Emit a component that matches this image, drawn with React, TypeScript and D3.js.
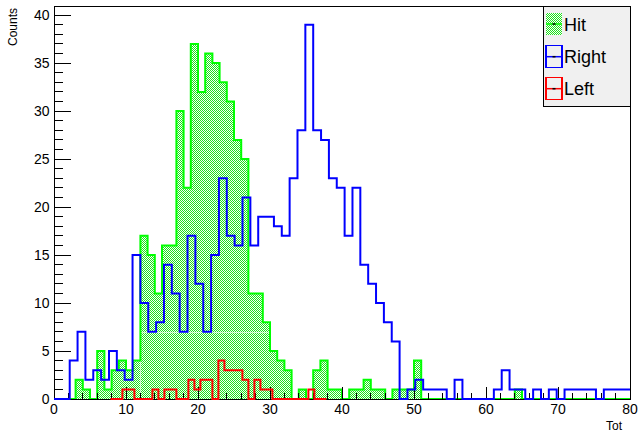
import React from "react";
import * as d3 from "d3";

// Axis ticks
const xMajorTicks = [0, 10, 20, 30, 40, 50, 60, 70, 80];
const yMajorTicks = [0, 5, 10, 15, 20, 25, 30, 35, 40];

// "Hit": 80 bins of width 1 starting at 0
const hitStart = 0;
const hitWidth = 1;
const hitCounts = [
  0, 0, 0, 2, 1, 0, 5, 1, 3, 4,
  3, 4, 17, 15, 11, 16, 16, 30, 22, 37,
  32, 36, 35, 33, 31, 27, 25, 11, 11, 8,
  5, 4, 3, 0, 1, 0, 3, 4, 1, 1,
  0, 1, 1, 2, 1, 1, 0, 1, 1, 1,
  4, 0, 0, 0, 0, 0, 0, 0, 0, 0,
  0, 0, 0, 0, 1, 0, 0, 0, 0, 0,
  0, 0, 0, 0, 0, 0, 0, 0, 0, 0,
];

// "Right": bins of width 12/11 starting at 0
const rightStart = 0;
const rightWidth = 12 / 11;
const rightCounts = [
  0, 0, 4, 7, 2, 3, 2, 5, 3, 2,
  15, 10, 7, 8, 14, 11, 7, 17, 12, 7,
  15, 23, 17, 16, 21, 16, 19, 19, 18, 17,
  23, 28, 39, 28, 27, 23, 22, 17, 22, 14,
  12, 10, 8, 6, 0, 1, 2, 1, 1, 1,
  0, 2, 0, 0, 0, 0, 1, 3, 1, 1,
  0, 1, 0, 1, 0, 1, 1, 1, 1, 0,
  1, 1, 1, 1,
];

// "Left": bins of width 5/6 starting at 7.8333
const leftWidth = 5 / 6;
const leftStart = -0.5 + 10 * leftWidth;
const leftCounts = [
  0, 0, 1, 1, 0, 0, 0, 1, 0, 1,
  1, 0, 0, 2, 1, 2, 2, 0, 4, 3,
  3, 3, 2, 0, 2, 1, 1, 0, 0, 0,
  0, 0, 0, 1, 0, 0,
];

const legendItems = [
  { label: "Hit", color: "#00ff00", filled: true },
  { label: "Right", color: "#0000ff", filled: false },
  { label: "Left", color: "#ff0000", filled: false },
];

const FONT = "'Liberation Sans', Arial, Helvetica, sans-serif";

export default function App() {
  const W = 639;
  const H = 434;
  const left = 54;
  const right = 630;
  const top = 6;
  const bottom = 399;
  const yMax = 40.95;

  const x = d3.scaleLinear().domain([0, 80]).range([left, right]);
  const y = d3.scaleLinear().domain([0, yMax]).range([bottom, top]);

  const step = d3
    .line<[number, number]>()
    .x((d) => x(d[0]))
    .y((d) => y(d[1]))
    .curve(d3.curveStepAfter);

  const outline = (start: number, width: number, counts: number[]) => {
    const pts: [number, number][] = [[start, 0]];
    counts.forEach((c, i) => pts.push([start + i * width, c]));
    const end = start + counts.length * width;
    pts.push([end, counts[counts.length - 1]]);
    pts.push([end, 0]);
    return step(pts) as string;
  };

  const hitPath = outline(hitStart, hitWidth, hitCounts);
  const rightPath = outline(rightStart, rightWidth, rightCounts);
  const leftPath = outline(leftStart, leftWidth, leftCounts);

  const xMinor = d3.range(0, 80.001, 2).filter((v) => v % 10 !== 0);
  const yMinor = d3.range(0, yMax, 1).filter((v) => v % 5 !== 0);

  const majX = 11.8;
  const minX = 5.9;
  const majY = 17.3;
  const minY = 8.6;

  // pattern tile seams of the hatched fill
  const seamX = [140.5, 207.5, 273.5];
  const seamY = [83.5, 207.5, 332.5];

  const legX = 543.5;
  const legY = 6;
  const legW = right - legX;
  const legH = 100;
  const rowY = [24, 56.7, 88.7];

  return (
    <svg
      width={W}
      height={H}
      viewBox={`0 0 ${W} ${H}`}
      style={{ position: "fixed", left: 0, top: 0, background: "#fff" }}
      fontFamily={FONT}
    >
      <defs>
        <pattern id="hatch" width="2" height="2" patternUnits="userSpaceOnUse">
          <rect x="0" y="0" width="2" height="2" fill="#f4fff4" />
          <rect x="0" y="0" width="1" height="1" fill="#1ee01e" />
          <rect x="1" y="1" width="1" height="1" fill="#1ee01e" />
        </pattern>
        <clipPath id="frameClip">
          <rect x={left} y={0} width={right - left} height={bottom + 1.5} />
        </clipPath>
        <clipPath id="hitClip">
          <path d={hitPath} />
        </clipPath>
      </defs>

      <rect x={0} y={0} width={W} height={H} fill="#fff" />

      {/* Hit: hatched fill and outline */}
      <g clipPath="url(#frameClip)">
        <path d={hitPath} fill="url(#hatch)" stroke="none" shapeRendering="crispEdges" />
        <g clipPath="url(#hitClip)" stroke="#ffffff" strokeWidth={1} strokeDasharray="1 1" opacity={0.6} shapeRendering="crispEdges">
          {seamX.map((sx) => (
            <line key={"sx" + sx} x1={sx} x2={sx} y1={top} y2={bottom} />
          ))}
          {seamY.map((sy) => (
            <line key={"sy" + sy} x1={left} x2={right} y1={sy} y2={sy} />
          ))}
        </g>
        <path d={hitPath} fill="none" stroke="#00ff00" strokeWidth={2} />
      </g>

      {/* Frame and axes */}
      <g shapeRendering="crispEdges" stroke="#000" strokeWidth={1}>
        <rect x={left} y={top} width={right - left} height={bottom - top} fill="none" />
        {xMajorTicks.map((t) => (
          <line key={"xM" + t} x1={x(t)} x2={x(t)} y1={bottom} y2={bottom - majX} />
        ))}
        {xMinor.map((t) => (
          <line key={"xm" + t} x1={x(t)} x2={x(t)} y1={bottom} y2={bottom - minX} />
        ))}
        {yMajorTicks.map((t) => (
          <line key={"yM" + t} x1={left} x2={left + majY} y1={y(t)} y2={y(t)} />
        ))}
        {yMinor.map((t) => (
          <line key={"ym" + t} x1={left} x2={left + minY} y1={y(t)} y2={y(t)} />
        ))}
      </g>

      {/* Right and Left outlines */}
      <g clipPath="url(#frameClip)" fill="none" strokeWidth={2}>
        <path d={rightPath} stroke="#0000ff" />
        <path d={leftPath} stroke="#ff0000" />
      </g>

      {/* Tick labels */}
      <g fontSize={14} fill="#000">
        {xMajorTicks.map((t) => (
          <text key={"xl" + t} x={x(t)} y={414} textAnchor="middle">
            {t}
          </text>
        ))}
        {yMajorTicks.map((t) => (
          <text key={"yl" + t} x={49.5} y={y(t) + 5} textAnchor="end">
            {t}
          </text>
        ))}
      </g>

      {/* Axis titles */}
      <text x={622} y={430} fontSize={12} textAnchor="end">
        Tot
      </text>
      <text
        transform={`translate(17,8) rotate(-90)`}
        fontSize={12}
        textAnchor="end"
      >
        Counts
      </text>

      {/* Legend */}
      <g>
        <rect
          x={legX}
          y={legY}
          width={legW}
          height={legH}
          fill="#f0f0f0"
          stroke="#000"
          strokeWidth={1}
          shapeRendering="crispEdges"
        />
        {legendItems.map((item, i) => {
          const cy = rowY[i];
          const bx = 546;
          const bw = 16;
          const bh = 22;
          return (
            <g key={item.label}>
              <rect
                x={bx}
                y={cy - bh / 2}
                width={bw}
                height={bh}
                fill={item.filled ? "url(#hatch)" : "none"}
                stroke={item.color}
                strokeWidth={item.filled ? 0 : 1.5}
                shapeRendering="crispEdges"
              />
              <line x1={bx} x2={bx + bw} y1={cy} y2={cy} stroke={item.color} strokeWidth={1.5} />
              <rect x={bx + bw / 2 - 1.5} y={cy - 0.75} width={3} height={1.5} fill="#000" />
              <text x={564} y={cy + 6.5} fontSize={18} fill="#000">
                {item.label}
              </text>
            </g>
          );
        })}
      </g>
    </svg>
  );
}
